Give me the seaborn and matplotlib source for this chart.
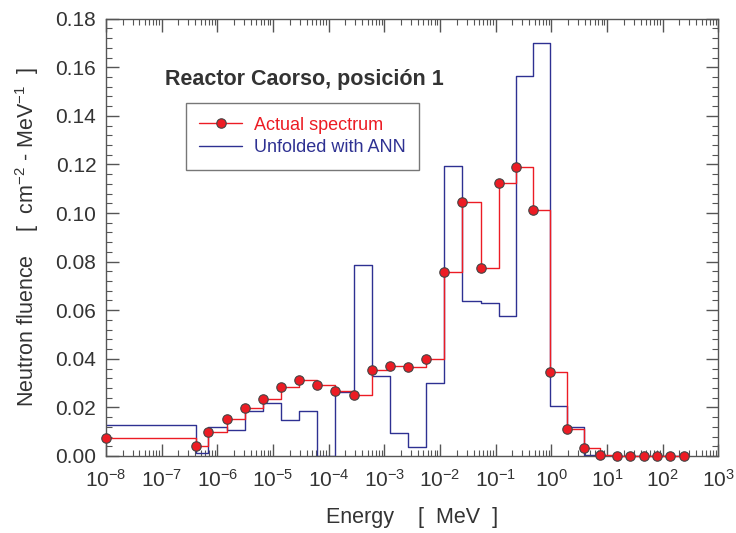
import numpy as np
import pandas as pd
import matplotlib
matplotlib.use('Agg')
import matplotlib.pyplot as plt
import matplotlib.ticker as mticker
import seaborn as sns

# energy groups (MeV)
energy = [1.0e-8, 4.14e-7, 6.9e-7, 1.48e-6, 3.16e-6, 6.6e-6, 1.41e-5, 2.95e-5,
          6.3e-5, 1.32e-4, 2.82e-4, 5.9e-4, 1.26e-3, 2.63e-3, 5.6e-3, 1.2e-2,
          2.5e-2, 5.4e-2, 1.15e-1, 2.3e-1, 4.6e-1, 9.3e-1, 1.9, 3.8, 7.4,
          15.1, 26.3, 45.7, 77.6, 135.0, 240.0]

actual = [0.0074, 0.0042, 0.0099, 0.0152, 0.0199, 0.0234, 0.0285, 0.0312,
          0.0293, 0.0267, 0.0251, 0.0355, 0.0371, 0.0368, 0.0399, 0.0758,
          0.1045, 0.0773, 0.1124, 0.1188, 0.1011, 0.0345, 0.0111, 0.0033,
          0.0005, 0.0001, 0.0001, 0.0001, 0.0001, 0.0001, 0.0001]

unfolded = [0.0126, 0.0014, 0.0119, 0.0108, 0.0184, 0.0218, 0.0148, 0.0185,
            0.0, 0.0265, 0.0787, 0.0330, 0.0096, 0.0037, 0.0299, 0.1192,
            0.0636, 0.0628, 0.0577, 0.1562, 0.1699, 0.0205, 0.0118, 0.0003,
            0.0001, 0.0, 0.0, 0.0, 0.0, 0.0, 0.0]

red = '#ec1c24'
blue = '#2e3192'
txt = '#333333'

sns.set_style('ticks')
plt.rcParams['font.family'] = ['Liberation Sans', 'DejaVu Sans']
plt.rcParams['mathtext.fontset'] = 'custom'
plt.rcParams['mathtext.rm'] = 'Liberation Sans'
plt.rcParams['mathtext.it'] = 'Liberation Sans'

df = pd.DataFrame({'E': energy, 'actual': actual, 'unfolded': unfolded})

fig = plt.figure(figsize=(7.36, 5.33), dpi=100)
ax = fig.add_axes([0.144, 0.1445, 0.832, 0.8205])

sns.lineplot(data=df, x='E', y='unfolded', ax=ax, color=blue, lw=1.0,
             drawstyle='steps-post', label='Unfolded with ANN', zorder=2)
sns.lineplot(data=df, x='E', y='actual', ax=ax, color=red, lw=1.0,
             drawstyle='steps-post', marker='o', markersize=6.8,
             markerfacecolor=red, markeredgecolor='#444444', markeredgewidth=0.8,
             label='Actual spectrum', zorder=3, clip_on=False)

ax.set_xscale('log')
ax.set_xlim(1e-8, 1e3)
ax.set_ylim(0, 0.18)
ax.xaxis.set_major_locator(mticker.LogLocator(base=10, numticks=20))
ax.xaxis.set_minor_locator(mticker.LogLocator(base=10, subs=np.arange(2, 10), numticks=200))
ax.xaxis.set_minor_formatter(mticker.NullFormatter())
ax.yaxis.set_major_locator(mticker.MultipleLocator(0.02))
ax.yaxis.set_minor_locator(mticker.MultipleLocator(0.004))
ax.yaxis.set_major_formatter(mticker.FormatStrFormatter('%.2f'))

ax.tick_params(which='both', direction='in', top=True, right=True,
               color='#555555', labelcolor=txt, labelsize=15)
ax.tick_params(which='major', length=9, width=1)
ax.tick_params(axis='x', which='major', pad=9)
ax.tick_params(axis='y', which='major', pad=7)
ax.tick_params(which='minor', length=4.5, width=0.8)
for s in ax.spines.values():
    s.set_color('#555555')
    s.set_linewidth(1)

ax.set_xlabel('Energy    [  MeV  ]', fontsize=15.5, color=txt, labelpad=12)
ax.set_ylabel('Neutron fluence    [  cm$^{-2}$ - MeV$^{-1}$  ]', fontsize=15.5,
              color=txt, labelpad=10)

ax.text(0.096, 0.86, 'Reactor Caorso, posición 1', transform=ax.transAxes,
        fontsize=15.5, fontweight='bold', color=txt, ha='left', va='center')

h, l = ax.get_legend_handles_labels()
leg = ax.legend(h[::-1], l[::-1], loc='upper left', bbox_to_anchor=(0.130, 0.807),
                borderaxespad=0, fontsize=13, frameon=True, fancybox=False,
                edgecolor='#555555', handlelength=2.4, handletextpad=0.65,
                labelspacing=0.3, borderpad=0.75, labelcolor=[red, blue])
leg.get_frame().set_linewidth(1)

fig.savefig('out.png', dpi=100)
